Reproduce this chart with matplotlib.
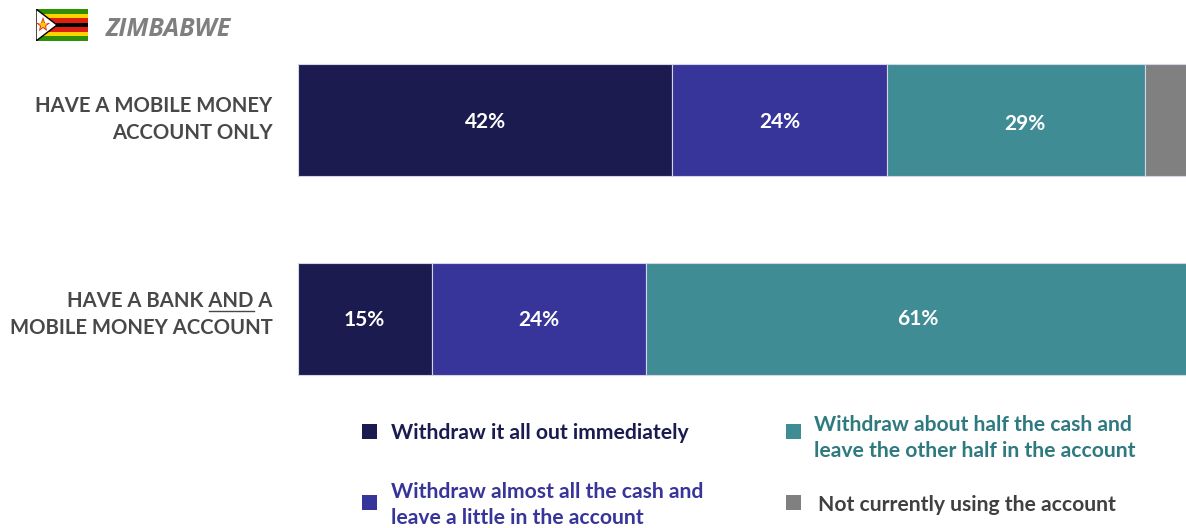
#!/usr/bin/env python3

"""Stacked bars: what Zimbabwean account holders do with money they receive."""

from matplotlib import pyplot as plt
from matplotlib.patches import Polygon, Rectangle
import numpy as np

# DATA
groups = ["HAVE A MOBILE MONEY\nACCOUNT ONLY", "HAVE A BANK AND A\nMOBILE MONEY ACCOUNT"]
withdraw_all = [42, 15]
withdraw_most = [24, 24]
withdraw_half = [29, 61]
not_using = [5, 0]

series = [withdraw_all, withdraw_most, withdraw_half, not_using]
series_labels = [
    "Withdraw it all out immediately",
    "Withdraw almost all the cash and\nleave a little in the account",
    "Withdraw about half the cash and\nleave the other half in the account",
    "Not currently using the account",
]

NAVY, INDIGO, TEAL, GREY = "#1b1b50", "#37349a", "#3f8c94", "#808080"
bar_colors = [NAVY, INDIGO, TEAL, GREY]
legend_text_colors = [NAVY, INDIGO, "#2f7a80", "#404040"]

W, H = 1186, 528
plt.rcParams['font.family'] = ['Lato', 'DejaVu Sans']

fig = plt.figure(figsize=(W / 100, H / 100), dpi=100)

# Overlay in pixel units for the free-standing text and legend
page = fig.add_axes([0, 0, 1, 1])
page.set_xlim(0, W)
page.set_ylim(H, 0)
page.axis('off')

# Bars: rows sit 199 px apart, each 112 px tall. The 100% end runs just
# past the right edge of the figure.
top, bottom = 63.5 - 43.5, 374.5 + 43.5
ax = fig.add_axes([297.8 / W, 1 - bottom / H, 892 / W, (bottom - top) / H])
ax.patch.set_alpha(0)
y = np.arange(len(groups))
left = np.zeros(len(groups))
# label offsets in points, per series and row
label_dx = [[0, 0], [0, 0], [6.5, 0], [0, 0]]
label_dy = [[-1.5, -1], [-1.5, -1], [-3.5, -0.5], [0, 0]]
for s, (values, color) in enumerate(zip(series, bar_colors)):
    ax.barh(y, values, left=left, height=112 / 199, color=color,
            edgecolor="#d5d5ea", linewidth=0.8)
    # the small grey slice carries no label
    if color != GREY:
        for i, v in enumerate(values):
            ax.annotate(f"{v}%", (left[i] + v / 2, i), color="white", fontsize=15,
                        xytext=(label_dx[s][i], label_dy[s][i]), textcoords='offset points',
                        fontweight='bold', ha='center', va='center')
    left += values
ax.set_xlim(0, 100)
ax.set_ylim(1 + 0.5, -0.5)
ax.axis('off')

# Row labels
for ypos, label in zip([119.5, 314.5], groups):
    page.text(272.5, ypos, label, color="#484848", fontsize=14.6, fontweight='bold',
              ha='right', va='center', multialignment='right', linespacing=1.42)
page.plot([209, 254], [310.5, 310.5], color="#484848", lw=1)

# Title with flag
page.text(106, 29, "ZIMBABWE", color="#7f7f7f", fontsize=18, fontweight='bold',
          style='italic', family='Open Sans', ha='left', va='center')

flag = fig.add_axes([36 / W, 1 - 41 / H, 52 / W, 32 / H])
flag.set_xlim(0, 52)
flag.set_ylim(32, 0)
flag.axis('off')
stripes = ["#2f8f07", "#ffd200", "#de2010", "#000000", "#de2010", "#ffd200", "#2f8f07"]
for i, c in enumerate(stripes):
    flag.add_patch(Rectangle((0, i * 32 / 7), 52, 32 / 7, color=c, lw=0))
flag.add_patch(Polygon([(0, 0), (21, 16), (0, 32)], closed=True, facecolor="white",
                       edgecolor="black", lw=1))
flag.plot([6.7], [16], marker='*', ms=11, color="#de2010", mew=0)
flag.plot([6.7], [16], marker='*', ms=8, color="#f5c518", mew=0)

# Legend placed by hand in two uneven columns
swatches = [(362, 424), (362, 495), (786, 424), (786, 495)]
text_pos = [(391, 433), (391, 505), (814, 438), (818, 505)]
for (sx, sy), (tx, ty), color, tcolor, label in zip(
        swatches, text_pos, bar_colors, legend_text_colors, series_labels):
    page.add_patch(Rectangle((sx, sy), 15, 15, color=color, lw=0))
    page.text(tx, ty, label, color=tcolor, fontsize=15.2, fontweight='bold',
              ha='left', va='center', linespacing=1.32)

plt.savefig('out.png', dpi=100)
